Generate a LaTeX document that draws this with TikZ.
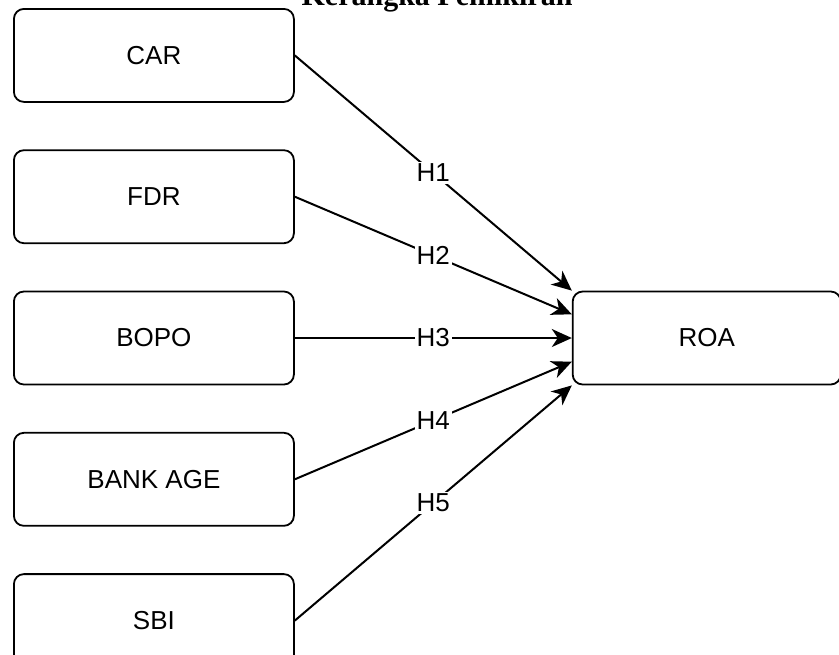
\documentclass[tikz,border=0pt]{standalone}
\usepackage{fontspec}
\setmainfont{Liberation Sans}
\newfontfamily\titlefont{Liberation Serif}
\usepackage{tikz}
\usetikzlibrary{arrows.meta,positioning,calc}

\begin{document}
\begin{tikzpicture}[
  x=0.5pt, y=-0.5pt,
  node distance=23.25pt and 138.5pt,
  >={Stealth[length=10pt,width=9pt,inset=3pt]},
  var/.style={draw, rounded corners=5pt, line width=0.9pt, align=center, minimum width=140pt, minimum height=46.5pt, font=\fontsize{13}{15}\selectfont},
  dep/.style={var, minimum width=134pt},
  hyp/.style={fill=white, inner sep=1pt, font=\fontsize{13}{15}\selectfont},
  line/.style={->, line width=1pt}
]
\useasboundingbox (0,0) rectangle (839,654);

\node[anchor=base, font=\titlefont\bfseries\fontsize{15}{17}\selectfont] (title) at (437,5) {Kerangka Pemikiran};

\node[var, anchor=north west] (car) at (13,8) {CAR};
\node[var, below=of car] (fdr) {FDR};
\node[var, below=of fdr] (bopo) {BOPO};
\node[var, below=of bopo] (age) {BANK AGE};
\node[var, below=of age] (sbi) {SBI};
\node[dep, right=of bopo] (roa) {ROA};

\draw[line] (car.east) -- node[hyp] {H1} (roa.north west);
\draw[line] (fdr.east) -- node[hyp] {H2} ($(roa.north west)!0.25!(roa.south west)$);
\draw[line] (bopo.east) -- node[hyp] {H3} (roa.west);
\draw[line] (age.east) -- node[hyp] {H4} ($(roa.north west)!0.75!(roa.south west)$);
\draw[line] (sbi.east) -- node[hyp] {H5} (roa.south west);

\end{tikzpicture}
\end{document}
